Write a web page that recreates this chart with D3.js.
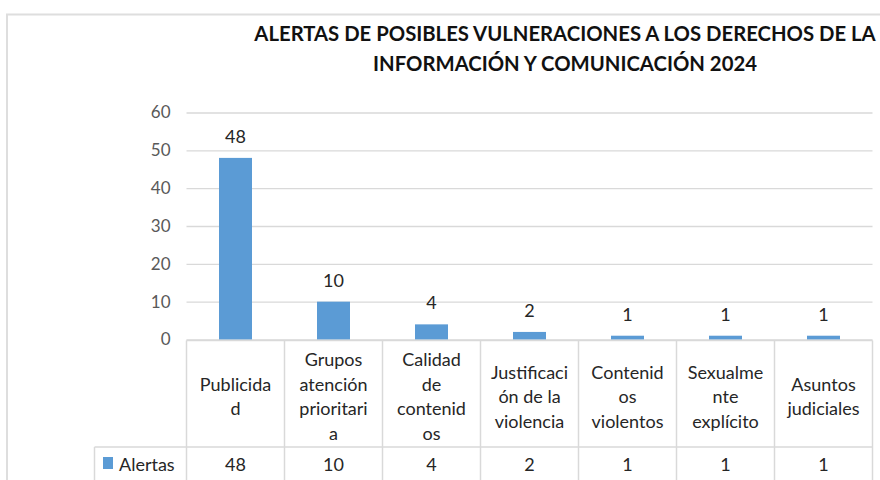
<!DOCTYPE html>
<html><head><meta charset="utf-8">
<script src="https://cdn.jsdelivr.net/npm/d3@7"></script>
<style>
html,body{margin:0;padding:0;background:#fff;}
svg{display:block;font-family:Lato,"Open Sans",sans-serif;}
</style></head>
<body><svg id="c" width="880" height="480"></svg>
<script>
const titleLines = ["ALERTAS DE POSIBLES VULNERACIONES A LOS DERECHOS DE LA", "INFORMACIÓN Y COMUNICACIÓN 2024"];
const categories = ["Publicidad", "Grupos atención prioritaria", "Calidad de contenidos", "Justificación de la violencia", "Contenidos violentos", "Sexualmente explícito", "Asuntos judiciales"];
const categoryLabelLines = [
  ["Publicida", "d"],
  ["Grupos", "atención", "prioritari", "a"],
  ["Calidad", "de", "contenid", "os"],
  ["Justificaci", "ón de la", "violencia"],
  ["Contenid", "os", "violentos"],
  ["Sexualme", "nte", "explícito"],
  ["Asuntos", "judiciales"]
];
const seriesName = "Alertas";
const alertas = [48, 10, 4, 2, 1, 1, 1];
const yTicks = [0, 10, 20, 30, 40, 50, 60];

const svg = d3.select("#c");
const W = 880, H = 480;
const plot = {left: 186.5, right: 872.5, top: 112.5, bottom: 339.5};
const grid = "#d9d9d9";
const barColor = "#5b9bd5";

// outer chart frame
svg.append("path").attr("d", `M7,${H+5} V14.5 H${W+5}`).attr("fill","none").attr("stroke","#dedede").attr("stroke-width",2);

// title
const title = svg.append("text").attr("text-anchor","middle").attr("font-weight","bold").attr("font-size",20.3).attr("fill","#111");
titleLines.forEach((t,i)=>{
  title.append("tspan").attr("x",565).attr("y",40.5 + i*30).text(t);
});

const x = d3.scaleBand().domain(categories).range([plot.left, plot.right]).paddingInner(0).paddingOuter(0);
const y = d3.scaleLinear().domain([0, 60]).range([plot.bottom, plot.top]);

// gridlines
const yAxis = d3.axisLeft(y).tickValues(yTicks).tickSize(-(plot.right - plot.left)).tickPadding(16);
const gy = svg.append("g").attr("transform", `translate(${plot.left},0)`).call(yAxis);
gy.select(".domain").remove();
gy.selectAll(".tick line").attr("stroke", grid).attr("stroke-width", 1.3);
gy.selectAll(".tick text").attr("fill","#595959").attr("font-size",17).attr("font-family","Lato, sans-serif");

// bars
const barW = 33;
svg.append("g").selectAll("rect").data(alertas).join("rect")
  .attr("x",(d,i)=>x(categories[i]) + x.bandwidth()/2 - barW/2)
  .attr("width",barW)
  .attr("y",d=>y(d))
  .attr("height",d=>y(0)-y(d))
  .attr("fill",barColor);

// data labels
svg.append("g").selectAll("text").data(alertas).join("text")
  .attr("x",(d,i)=>x(categories[i]) + x.bandwidth()/2)
  .attr("y",d=>y(d)-15)
  .attr("text-anchor","middle")
  .attr("font-size",18)
  .attr("fill","#262626")
  .text(d=>d);

// data table
const tableTop = plot.bottom + 1, rowSplit = 447, tableBottom = 500, legendLeft = 94.5;
const tg = svg.append("g").attr("stroke", grid).attr("stroke-width",1.5).attr("fill","none");
tg.append("line").attr("x1",plot.left).attr("x2",plot.right).attr("y1",tableTop).attr("y2",tableTop);
tg.append("line").attr("x1",legendLeft).attr("x2",plot.right).attr("y1",rowSplit).attr("y2",rowSplit);
const edges = categories.map(c=>x(c)).concat([plot.right]);
tg.selectAll("line.v").data(edges).join("line").attr("class","v")
  .attr("x1",d=>d).attr("x2",d=>d).attr("y1",tableTop).attr("y2",tableBottom);
tg.append("line").attr("x1",legendLeft).attr("x2",legendLeft).attr("y1",rowSplit).attr("y2",tableBottom);

// header labels
const lh = 24.5, headerMid = 397;
const hl = svg.append("g").selectAll("text").data(categoryLabelLines).join("text")
  .attr("text-anchor","middle").attr("font-size",18).attr("fill","#262626");
hl.each(function(lines,i){
  const cx = x(categories[i]) + x.bandwidth()/2;
  const start = headerMid - (lines.length-1)*lh/2;
  d3.select(this).selectAll("tspan").data(lines).join("tspan")
    .attr("x",cx).attr("y",(d,j)=>start + j*lh + 6).text(d=>d);
});

// value row
svg.append("g").selectAll("text").data(alertas).join("text")
  .attr("x",(d,i)=>x(categories[i]) + x.bandwidth()/2)
  .attr("y",471).attr("text-anchor","middle").attr("font-size",18).attr("fill","#262626")
  .text(d=>d);

// legend key
svg.append("rect").attr("x",103).attr("y",457).attr("width",10).attr("height",12).attr("fill",barColor);
svg.append("text").attr("x",119).attr("y",471).attr("font-size",18).attr("fill","#262626").text(seriesName);
</script></body></html>
